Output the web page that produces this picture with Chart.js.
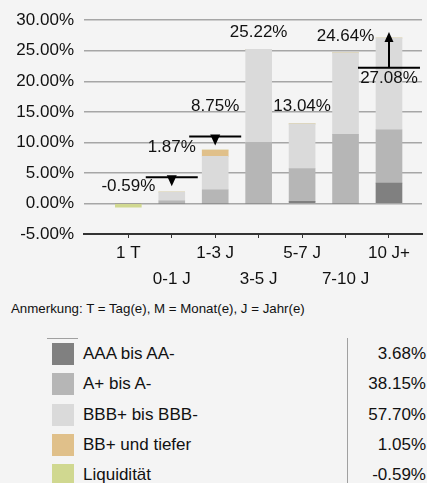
<!DOCTYPE html>
<html>
<head>
<meta charset="utf-8">
<script src="https://cdn.jsdelivr.net/npm/chart.js@4.4.0/dist/chart.umd.min.js"></script>
<style>
  body { margin: 0; background: #f4f4f4; font-family: "Liberation Sans", Arial, sans-serif; color: #111; }
  #wrap { position: relative; width: 427px; height: 483px; overflow: hidden; }
  #chart { position: absolute; left: 0; top: 0; }
  #note { position: absolute; left: 11px; top: 301px; font-size: 13.3px; white-space: nowrap; }
  #topLine { position: absolute; left: 47px; top: 338px; width: 31px; height: 1px; background: #a0a0a0; }
  #vLine { position: absolute; left: 347px; top: 338px; width: 1px; height: 150px; background: #a0a0a0; }
  #legend { position: absolute; left: 0; top: 339px; width: 427px; }
  .row { position: relative; height: 30.3px; font-size: 17px; }
  .sw { position: absolute; left: 52px; top: 4px; width: 22px; height: 22px; }
  .name { position: absolute; left: 83px; top: 5px; }
  .val { position: absolute; right: 1px; top: 5px; }
</style>
</head>
<body>
<div id="wrap">
  <canvas id="chart" width="427" height="290"></canvas>
  <div id="note">Anmerkung: T = Tag(e), M = Monat(e), J = Jahr(e)</div>
  <div id="topLine"></div>
  <div id="vLine"></div>
  <div id="legend"></div>
</div>
<script>
// === Data ===
const categories = ["1 T", "0-1 J", "1-3 J", "3-5 J", "5-7 J", "7-10 J", "10 J+"];
const seriesNames = ["AAA bis AA-", "A+ bis A-", "BBB+ bis BBB-", "BB+ und tiefer", "Liquidität"];
const aaa = [0, 0, 0, 0, 0.35, 0, 3.33];
const aPlus = [0, 0.45, 2.25, 10.0, 5.37, 11.3, 8.74];
const bbb = [0, 1.42, 5.45, 15.22, 7.32, 13.34, 15.01];
const bbPlus = [0, 0, 1.05, 0, 0, 0, 0];
const liquid = [-0.59, 0, 0, 0, 0, 0, 0];
const benchmark = [null, 4.28, 10.96, null, null, null, 22.2];
const legendTotals = [3.68, 38.15, 57.7, 1.05, -0.59];

const colors = ["#808080", "#b6b6b6", "#dadada", "#e0c08a", "#d0d890"];
const seriesData = [aaa, aPlus, bbb, bbPlus, liquid];
const totals = categories.map((c, i) => seriesData.reduce((s, arr) => s + arr[i], 0));

const FONT = "Liberation Sans";
const pct = (v) => v.toFixed(2) + "%";

// === Legend table ===
document.getElementById("legend").innerHTML = seriesNames
  .map(
    (n, i) => `
    <div class="row">
      <div class="sw" style="background:${colors[i]}"></div>
      <div class="name">${n}</div>
      <div class="val">${pct(legendTotals[i])}</div>
    </div>`
  )
  .join("");

// === Value labels + benchmark markers ===
const markerPlugin = {
  id: "markers",
  afterDatasetsDraw(chart) {
    const { ctx } = chart;
    const x = chart.scales.x;
    const y = chart.scales.y;
    ctx.save();
    ctx.font = `17px "${FONT}"`;
    ctx.textAlign = "center";
    ctx.textBaseline = "middle";
    categories.forEach((c, i) => {
      const total = totals[i];
      const cx = x.getPixelForValue(i);
      const b = benchmark[i];
      let ly;
      if (b == null) {
        ly = y.getPixelForValue(Math.max(total, 0)) - 17;
      } else {
        const by = y.getPixelForValue(b);
        const up = total > b;
        const half = up ? 31 : 26;
        ctx.strokeStyle = "#000";
        ctx.fillStyle = "#000";
        ctx.lineWidth = 2;
        ctx.beginPath();
        ctx.moveTo(cx - half, by);
        ctx.lineTo(cx + half, by);
        ctx.stroke();
        if (up) {
          const tip = y.getPixelForValue(total) - 6;
          ctx.beginPath();
          ctx.moveTo(cx, by);
          ctx.lineTo(cx, tip + 8);
          ctx.stroke();
          ctx.beginPath();
          ctx.moveTo(cx, tip);
          ctx.lineTo(cx - 4.5, tip + 10);
          ctx.lineTo(cx + 4.5, tip + 10);
          ctx.closePath();
          ctx.fill();
          ly = by + 10;
        } else {
          ctx.beginPath();
          ctx.moveTo(cx - 5, by - 2);
          ctx.lineTo(cx + 5, by - 2);
          ctx.lineTo(cx, by + 9);
          ctx.closePath();
          ctx.fill();
          ly = by - 30;
        }
      }
      ctx.fillStyle = "#111";
      ctx.fillText(pct(total), cx, ly);
    });
    ctx.restore();
  },
};

// === Chart ===
new Chart(document.getElementById("chart"), {
  type: "bar",
  data: {
    datasets: seriesData.map((arr, k) => ({
      label: seriesNames[k],
      data: arr.map((v, i) => ({ x: i, y: v })),
      backgroundColor: colors[k],
      barThickness: 26,
      borderWidth: 0,
    })),
  },
  options: {
    responsive: false,
    animation: false,
    devicePixelRatio: 1,
    layout: { padding: { top: 19, right: 5, left: 0, bottom: 0 } },
    plugins: { legend: { display: false }, tooltip: { enabled: false } },
    scales: {
      x: {
        type: "linear",
        offset: false,
        min: -1.02,
        max: 6.76,
        stacked: true,
        afterBuildTicks: (s) => {
          s.ticks = categories.map((c, i) => ({ value: i }));
        },
        afterFit: (s) => {
          s.height = 56;
        },
        grid: { offset: false, drawOnChartArea: false, drawTicks: true, tickLength: 4, color: "#333", lineWidth: 1 },
        border: { color: "#333", width: 2 },
        ticks: {
          autoSkip: false,
          maxRotation: 0,
          padding: 2,
          color: "#111",
          font: { family: FONT, size: 17, lineHeight: 1.55 },
          callback: (v) => (v % 2 === 0 ? [categories[v], ""] : ["", categories[v]]),
        },
      },
      y: {
        min: -5,
        max: 30,
        stacked: true,
        afterFit: (s) => {
          s.width = 84;
        },
        grid: { drawTicks: false, color: "#a6a6a6", lineWidth: 1.5 },
        border: { display: false },
        ticks: {
          stepSize: 5,
          padding: 10,
          color: "#111",
          font: { family: FONT, size: 17 },
          callback: (v) => pct(v),
        },
      },
    },
  },
  plugins: [markerPlugin],
});
</script>
</body>
</html>
